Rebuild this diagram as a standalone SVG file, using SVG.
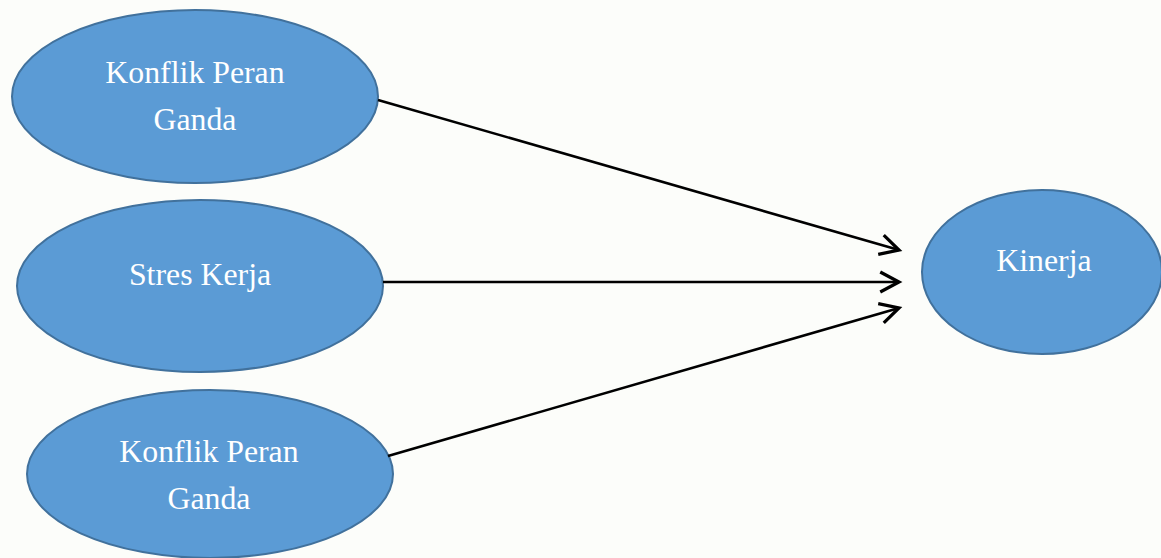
<svg xmlns="http://www.w3.org/2000/svg" width="1161" height="558" viewBox="0 0 1161 558">
<style>
.node ellipse{fill:#5b9bd5;stroke:#41719c;stroke-width:2}
.node text{fill:#ffffff;font-family:"Liberation Serif","Times New Roman",serif;font-size:31.8px;text-anchor:middle}
.conn line{stroke:#000;stroke-width:2.6}
</style>
<defs>
<marker id="arr" markerUnits="userSpaceOnUse" markerWidth="30" markerHeight="30" refX="0" refY="0" viewBox="-18 -12 22 24" orient="auto" overflow="visible">
<path d="M-15,-8 L0,0 L-15,8" fill="none" stroke="#000" stroke-width="2.6"/>
</marker>
</defs>
<rect width="1161" height="558" fill="#fcfdfa"/>
<g id="n1" class="node">
<ellipse cx="195" cy="96.5" rx="183" ry="86.5"/>
<text x="195" y="83">Konflik Peran</text>
<text x="195" y="130">Ganda</text>
</g>
<g id="n2" class="node">
<ellipse cx="200" cy="286" rx="183" ry="86"/>
<text x="200" y="285">Stres Kerja</text>
</g>
<g id="n3" class="node">
<ellipse cx="210" cy="474" rx="183" ry="84"/>
<text x="209" y="462">Konflik Peran</text>
<text x="209" y="509">Ganda</text>
</g>
<g id="n4" class="node">
<ellipse cx="1042" cy="272" rx="120" ry="82"/>
<text x="1044" y="271">Kinerja</text>
</g>
<g id="connectors" class="conn">
<line x1="378" y1="100" x2="899" y2="250" marker-end="url(#arr)"/>
<line x1="383" y1="282" x2="899" y2="282" marker-end="url(#arr)"/>
<line x1="388" y1="456" x2="899" y2="308" marker-end="url(#arr)"/>
</g>
</svg>
